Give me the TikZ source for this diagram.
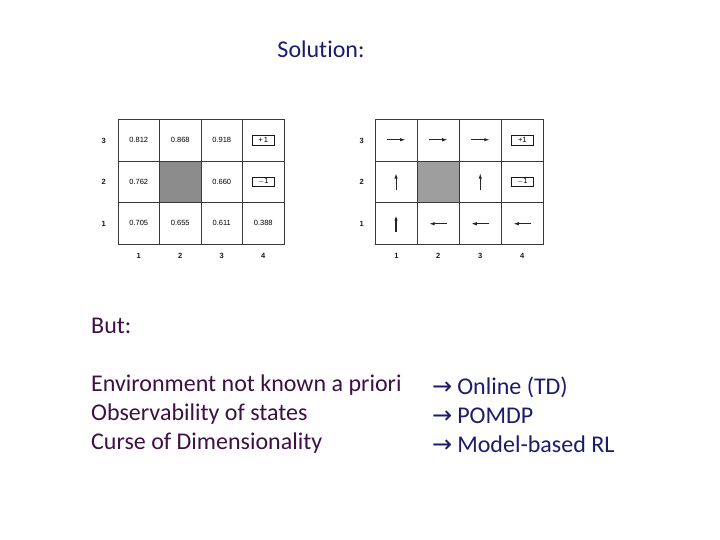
\documentclass[tikz,border=0pt]{standalone}
\usepackage{fontspec}
\setmainfont{Carlito}[Ligatures=NoCommon]
\newfontfamily\gridfont{Liberation Sans}
\newfontfamily\arrfont{DejaVu Sans}
\usetikzlibrary{arrows.meta}
\definecolor{navy}{HTML}{1C1C6E}
\definecolor{plum}{HTML}{3F0F45}
\definecolor{gridline}{HTML}{3A3A3A}
\begin{document}
\begin{tikzpicture}[x=1pt,y=-1pt,
  cell/.style={draw=gridline,line width=0.9pt,minimum width=41.5pt,minimum height=41.5pt,inner sep=0pt,outer sep=0pt,anchor=north west,font=\gridfont\fontsize{7.5}{8}\selectfont,text=black},
  rcell/.style={cell,minimum width=42.1pt},
  wall/.style={fill=black!45},
  rwall/.style={fill=black!38},
  axis/.style={font=\gridfont\bfseries\fontsize{7.5}{8}\selectfont,text=black!90,inner sep=0pt},
  term/.style={draw=black!90,line width=0.9pt,minimum width=22pt,minimum height=9.5pt,inner sep=0pt,font=\gridfont\fontsize{7.5}{8}\selectfont},
  pol/.style={line width=1pt,black!85,-{Latex[length=5.5pt,width=3.5pt]}},
  big/.style={font=\fontsize{24}{29}\selectfont,inner sep=0pt,anchor=base west},
]
\useasboundingbox[fill=white] (0,0) rectangle (720,540);

\node[big,anchor=base,text=navy] (sol) at (321,58) {Solution:};

% left grid (utilities)
\node[cell] (L13) at (118,119.5) {0.812};
\node[cell] (L23) at (159.5,119.5) {0.868};
\node[cell] (L33) at (201,119.5) {0.918};
\node[cell] (L43) at (242.5,119.5) {};
\node[cell] (L12) at (118,161) {0.762};
\node[cell,wall] (L22) at (159.5,161) {};
\node[cell] (L32) at (201,161) {0.660};
\node[cell] (L42) at (242.5,161) {};
\node[cell] (L11) at (118,202.5) {0.705};
\node[cell] (L21) at (159.5,202.5) {0.655};
\node[cell] (L31) at (201,202.5) {0.611};
\node[cell] (L41) at (242.5,202.5) {0.388};
\node[term] (Lp) at (L43.center) {+\,1};
\node[term] (Lm) at (L42.center) {$-$1};
\node[axis] (Lr3) at (103.7,140.5) {3};
\node[axis] (Lr2) at (103.7,182) {2};
\node[axis] (Lr1) at (103.7,223.5) {1};
\node[axis] (Lc1) at (138.7,256) {1};
\node[axis] (Lc2) at (180.2,256) {2};
\node[axis] (Lc3) at (221.7,256) {3};
\node[axis] (Lc4) at (263.2,256) {4};

% right grid (policy)
\node[rcell] (R13) at (375,119.5) {};
\node[rcell] (R23) at (417.1,119.5) {};
\node[rcell] (R33) at (459.2,119.5) {};
\node[rcell] (R43) at (501.3,119.5) {};
\node[rcell] (R12) at (375,161) {};
\node[rcell,rwall] (R22) at (417.1,161) {};
\node[rcell] (R32) at (459.2,161) {};
\node[rcell] (R42) at (501.3,161) {};
\node[rcell] (R11) at (375,202.5) {};
\node[rcell] (R21) at (417.1,202.5) {};
\node[rcell] (R31) at (459.2,202.5) {};
\node[rcell] (R41) at (501.3,202.5) {};
\node[term] (Rp) at (R43.center) {+1};
\node[term] (Rm) at (R42.center) {$-$1};
\node[axis] (Rr3) at (361.7,140.5) {3};
\node[axis] (Rr2) at (361.7,182) {2};
\node[axis] (Rr1) at (361.7,223.5) {1};
\node[axis] (Rc1) at (396.5,256) {1};
\node[axis] (Rc2) at (438.1,256) {2};
\node[axis] (Rc3) at (480.2,256) {3};
\node[axis] (Rc4) at (522.3,256) {4};

\foreach \c in {R13,R23,R33}
  \draw[pol] ([xshift=-9.5pt,yshift=0.5pt]\c.center) -- ([xshift=9.5pt,yshift=0.5pt]\c.center);
\foreach \c in {R12,R32}
  \draw[pol] ([yshift=-8.5pt]\c.center) -- ([yshift=8.5pt]\c.center);
\draw[pol,line width=1.7pt] ([yshift=-9pt]R11.center) -- ([yshift=8pt]R11.center);
\foreach \c in {R21,R31,R41}
  \draw[pol] ([xshift=9pt,yshift=-0.5pt]\c.center) -- ([xshift=-9pt,yshift=-0.5pt]\c.center);

\node[big,text=plum] (but) at (91,333) {But:};
\node[big,text=plum] (p1) at (91,391) {Environment not known a priori};
\node[big,text=plum] (p2) at (91,420) {Observability of states};
\node[big,text=plum] (p3) at (91,449) {Curse of Dimensionality};
\node[big,text=navy] (s1) at (432,394) {{\arrfont →}\hspace{5pt}Online (TD)};
\node[big,text=navy] (s2) at (432,423) {{\arrfont →}\hspace{5pt}POMDP};
\node[big,text=navy] (s3) at (432,452) {{\arrfont →}\hspace{5pt}Model-based RL};
\end{tikzpicture}
\end{document}
